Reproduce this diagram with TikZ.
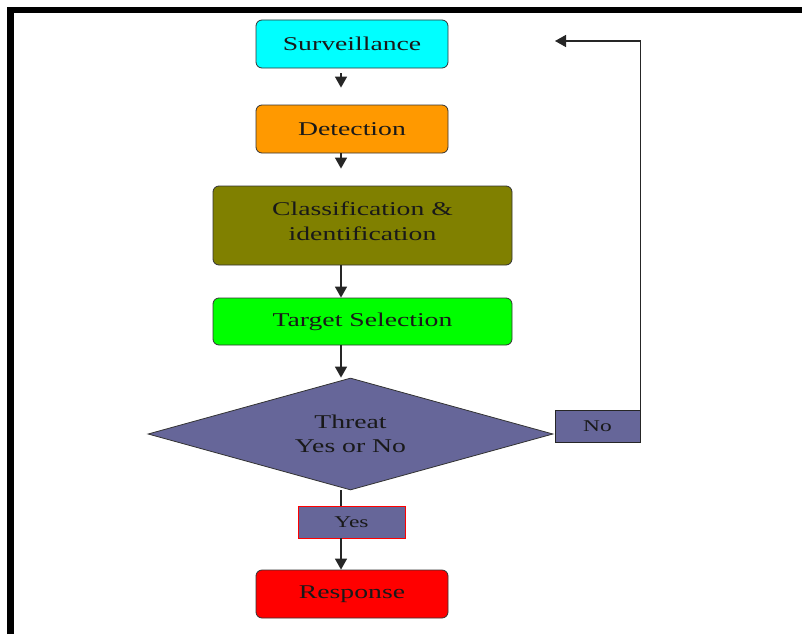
\documentclass[tikz,border=0pt]{standalone}
\usepackage{fontspec}
\setmainfont{Liberation Serif}[FakeStretch=1.42]
\usetikzlibrary{shapes.geometric,arrows.meta}

\definecolor{survcyan}{HTML}{00FFFF}
\definecolor{detorange}{HTML}{FF9900}
\definecolor{clsolive}{HTML}{808000}
\definecolor{tgtgreen}{HTML}{00FF00}
\definecolor{slate}{HTML}{666699}
\definecolor{resred}{HTML}{FF0000}

\tikzset{
  x=1pt, y=-1pt,
  stage/.style={draw=black!80, line width=0.8pt, rounded corners=6pt,
    inner sep=0pt, align=center, text=black!90,
    font=\fontsize{19.5}{25}\selectfont},
  answer/.style={draw=black!85, line width=0.8pt, fill=slate, inner sep=0pt,
    text=black!90, font=\fontsize{16.5}{20}\selectfont},
  flow/.style={line width=1.4pt, draw=black!85,
    -{Triangle[width=12pt,length=11pt]}},
  plainline/.style={line width=1.4pt, draw=black!85},
}

\begin{document}
\begin{tikzpicture}
  \useasboundingbox (0,0) rectangle (802,634);
  % page frame (top and left edges)
  \draw[line width=6.5pt] (10.5,634) -- (10.5,10) -- (802,10);

  % vertical spine carrying the connectors
  \coordinate (spine) at (341,0);

  \node[stage, fill=survcyan, minimum width=192pt, minimum height=48pt]
    (sv) at (352,44) {Surveillance};
  \node[stage, fill=detorange, minimum width=192pt, minimum height=48pt]
    (dt) at (352,129) {Detection};
  \node[stage, fill=clsolive, minimum width=299pt, minimum height=79pt]
    (cl) at (362.5,225.5) {Classification \&\\identification\\[-16pt]\mbox{}};
  \node[stage, fill=tgtgreen, minimum width=299pt, minimum height=47pt]
    (ts) at (362.5,321.5) {Target Selection};
  \node[diamond, aspect=3.6, draw=black!80, line width=0.8pt, fill=slate,
    inner sep=0pt, minimum width=405pt, minimum height=112pt, align=center,
    text=black!90, font=\fontsize{19.5}{24}\selectfont]
    (th) at (350.5,434) {Threat\\Yes or No};
  \node[answer, draw=red, minimum width=107pt, minimum height=32pt]
    (yes) at (351.5,522) {Yes};
  \node[stage, fill=resred, minimum width=192pt, minimum height=48pt]
    (rs) at (352,594) {Response};
  \node[answer, minimum width=85pt, minimum height=32pt]
    (no) at (597.5,426) {No};

  \coordinate (back) at (555,41);

  \draw[flow, shorten <=5pt, shorten >=17pt] (sv.south -| spine) -- (dt.north -| spine);
  \draw[flow, shorten >=17pt] (dt.south -| spine) -- (cl.north -| spine);
  \draw[flow] (cl.south -| spine) -- (ts.north -| spine);
  \draw[flow] (ts.south -| spine) -- (th.north -| spine);
  \draw[plainline] (th.south -| spine) -- (yes.north -| spine);
  \draw[flow] (yes.south -| spine) -- (rs.north -| spine);
  \draw[flow] (no.north east) |- (back);
\end{tikzpicture}
\end{document}
